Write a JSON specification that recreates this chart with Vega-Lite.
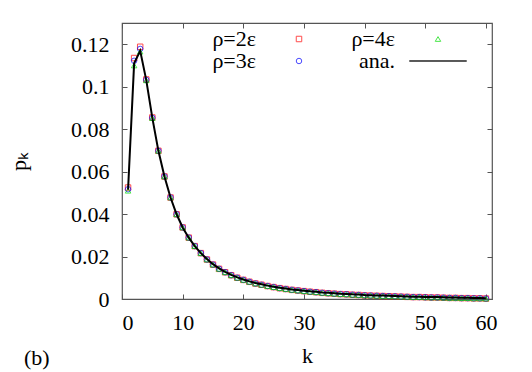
{
  "$schema": "https://vega.github.io/schema/vega-lite/v6.json",
  "width": 370,
  "height": 276,
  "autosize": {"type": "none"},
  "padding": {"left": 122, "top": 23, "right": 40, "bottom": 73},
  "config": {
    "font": "Liberation Serif",
    "view": {"stroke": "#555", "strokeWidth": 1.2},
    "axis": {
      "grid": false, "domain": false,
      "labelFont": "Liberation Serif", "labelFontSize": 22, "labelColor": "#000",
      "titleFont": "Liberation Serif", "titleFontSize": 22, "titleFontWeight": "normal", "titleColor": "#000",
      "tickColor": "#555", "tickSize": -5, "tickWidth": 1
    },
    "legend": {
      "orient": "none", "legendX": 166, "legendY": 5, "columns": 2, "columnPadding": 47, "rowPadding": 0,
      "symbolSize": 30, "symbolStrokeWidth": 1,
      "labelFont": "Liberation Serif", "labelFontSize": 22, "labelColor": "#000",
      "labelAlign": "right", "labelOffset": -54, "labelLimit": 0, "padding": 0
    }
  },
  "title": {"text": "(b)", "orient": "bottom", "anchor": "start", "frame": "group", "font": "Liberation Serif", "fontSize": 22, "fontWeight": "normal", "color": "#000", "dx": -98, "offset": -18},
  "data": {"values": [
    {"k":1,"s":"ρ=2ε","p":0.0525},{"k":2,"s":"ρ=2ε","p":0.1135},{"k":3,"s":"ρ=2ε","p":0.1188},{"k":4,"s":"ρ=2ε","p":0.1034},{"k":5,"s":"ρ=2ε","p":0.0855},
    {"k":6,"s":"ρ=2ε","p":0.0698},{"k":7,"s":"ρ=2ε","p":0.0577},{"k":8,"s":"ρ=2ε","p":0.0478},{"k":9,"s":"ρ=2ε","p":0.0399},{"k":10,"s":"ρ=2ε","p":0.0337},
    {"k":11,"s":"ρ=2ε","p":0.0289},{"k":12,"s":"ρ=2ε","p":0.0249},{"k":13,"s":"ρ=2ε","p":0.0216},{"k":14,"s":"ρ=2ε","p":0.0186},{"k":15,"s":"ρ=2ε","p":0.0162},
    {"k":16,"s":"ρ=2ε","p":0.0142},{"k":17,"s":"ρ=2ε","p":0.0126},{"k":18,"s":"ρ=2ε","p":0.0112},{"k":19,"s":"ρ=2ε","p":0.0100},{"k":20,"s":"ρ=2ε","p":0.0090},
    {"k":21,"s":"ρ=2ε","p":0.0081},{"k":22,"s":"ρ=2ε","p":0.0073},{"k":23,"s":"ρ=2ε","p":0.0067},{"k":24,"s":"ρ=2ε","p":0.0061},{"k":25,"s":"ρ=2ε","p":0.0056},
    {"k":26,"s":"ρ=2ε","p":0.0051},{"k":27,"s":"ρ=2ε","p":0.0047},{"k":28,"s":"ρ=2ε","p":0.0043},{"k":29,"s":"ρ=2ε","p":0.0040},{"k":30,"s":"ρ=2ε","p":0.0037},
    {"k":31,"s":"ρ=2ε","p":0.0034},{"k":32,"s":"ρ=2ε","p":0.0032},{"k":33,"s":"ρ=2ε","p":0.0029},{"k":34,"s":"ρ=2ε","p":0.0027},{"k":35,"s":"ρ=2ε","p":0.0025},
    {"k":36,"s":"ρ=2ε","p":0.0023},{"k":37,"s":"ρ=2ε","p":0.0022},{"k":38,"s":"ρ=2ε","p":0.0020},{"k":39,"s":"ρ=2ε","p":0.0019},{"k":40,"s":"ρ=2ε","p":0.0017},
    {"k":41,"s":"ρ=2ε","p":0.0016},{"k":42,"s":"ρ=2ε","p":0.0015},{"k":43,"s":"ρ=2ε","p":0.0014},{"k":44,"s":"ρ=2ε","p":0.0013},{"k":45,"s":"ρ=2ε","p":0.0012},
    {"k":46,"s":"ρ=2ε","p":0.0011},{"k":47,"s":"ρ=2ε","p":0.0010},{"k":48,"s":"ρ=2ε","p":0.0009},{"k":49,"s":"ρ=2ε","p":0.0009},{"k":50,"s":"ρ=2ε","p":0.0008},
    {"k":51,"s":"ρ=2ε","p":0.0007},{"k":52,"s":"ρ=2ε","p":0.0007},{"k":53,"s":"ρ=2ε","p":0.0006},{"k":54,"s":"ρ=2ε","p":0.0005},{"k":55,"s":"ρ=2ε","p":0.0005},
    {"k":56,"s":"ρ=2ε","p":0.0004},{"k":57,"s":"ρ=2ε","p":0.0004},{"k":58,"s":"ρ=2ε","p":0.0003},{"k":59,"s":"ρ=2ε","p":0.0003},{"k":60,"s":"ρ=2ε","p":0.0002},

    {"k":1,"s":"ρ=3ε","p":0.0517},{"k":2,"s":"ρ=3ε","p":0.1122},{"k":3,"s":"ρ=3ε","p":0.1178},{"k":4,"s":"ρ=3ε","p":0.1032},{"k":5,"s":"ρ=3ε","p":0.0853},
    {"k":6,"s":"ρ=3ε","p":0.0698},{"k":7,"s":"ρ=3ε","p":0.0577},{"k":8,"s":"ρ=3ε","p":0.0478},{"k":9,"s":"ρ=3ε","p":0.0399},{"k":10,"s":"ρ=3ε","p":0.0337},
    {"k":11,"s":"ρ=3ε","p":0.0289},{"k":12,"s":"ρ=3ε","p":0.0249},{"k":13,"s":"ρ=3ε","p":0.0216},{"k":14,"s":"ρ=3ε","p":0.0186},{"k":15,"s":"ρ=3ε","p":0.0162},
    {"k":16,"s":"ρ=3ε","p":0.0142},{"k":17,"s":"ρ=3ε","p":0.0126},{"k":18,"s":"ρ=3ε","p":0.0112},{"k":19,"s":"ρ=3ε","p":0.0100},{"k":20,"s":"ρ=3ε","p":0.0090},
    {"k":21,"s":"ρ=3ε","p":0.0081},{"k":22,"s":"ρ=3ε","p":0.0073},{"k":23,"s":"ρ=3ε","p":0.0067},{"k":24,"s":"ρ=3ε","p":0.0061},{"k":25,"s":"ρ=3ε","p":0.0056},
    {"k":26,"s":"ρ=3ε","p":0.0051},{"k":27,"s":"ρ=3ε","p":0.0047},{"k":28,"s":"ρ=3ε","p":0.0043},{"k":29,"s":"ρ=3ε","p":0.0040},{"k":30,"s":"ρ=3ε","p":0.0037},
    {"k":31,"s":"ρ=3ε","p":0.0034},{"k":32,"s":"ρ=3ε","p":0.0032},{"k":33,"s":"ρ=3ε","p":0.0029},{"k":34,"s":"ρ=3ε","p":0.0027},{"k":35,"s":"ρ=3ε","p":0.0025},
    {"k":36,"s":"ρ=3ε","p":0.0023},{"k":37,"s":"ρ=3ε","p":0.0022},{"k":38,"s":"ρ=3ε","p":0.0020},{"k":39,"s":"ρ=3ε","p":0.0019},{"k":40,"s":"ρ=3ε","p":0.0017},
    {"k":41,"s":"ρ=3ε","p":0.0016},{"k":42,"s":"ρ=3ε","p":0.0015},{"k":43,"s":"ρ=3ε","p":0.0014},{"k":44,"s":"ρ=3ε","p":0.0013},{"k":45,"s":"ρ=3ε","p":0.0012},
    {"k":46,"s":"ρ=3ε","p":0.0011},{"k":47,"s":"ρ=3ε","p":0.0010},{"k":48,"s":"ρ=3ε","p":0.0009},{"k":49,"s":"ρ=3ε","p":0.0009},{"k":50,"s":"ρ=3ε","p":0.0008},
    {"k":51,"s":"ρ=3ε","p":0.0007},{"k":52,"s":"ρ=3ε","p":0.0007},{"k":53,"s":"ρ=3ε","p":0.0006},{"k":54,"s":"ρ=3ε","p":0.0005},{"k":55,"s":"ρ=3ε","p":0.0005},
    {"k":56,"s":"ρ=3ε","p":0.0004},{"k":57,"s":"ρ=3ε","p":0.0004},{"k":58,"s":"ρ=3ε","p":0.0003},{"k":59,"s":"ρ=3ε","p":0.0003},{"k":60,"s":"ρ=3ε","p":0.0002},

    {"k":1,"s":"ρ=4ε","p":0.0510},{"k":2,"s":"ρ=4ε","p":0.1100},{"k":3,"s":"ρ=4ε","p":0.1165},{"k":4,"s":"ρ=4ε","p":0.1030},{"k":5,"s":"ρ=4ε","p":0.0852},
    {"k":6,"s":"ρ=4ε","p":0.0698},{"k":7,"s":"ρ=4ε","p":0.0577},{"k":8,"s":"ρ=4ε","p":0.0478},{"k":9,"s":"ρ=4ε","p":0.0399},{"k":10,"s":"ρ=4ε","p":0.0337},
    {"k":11,"s":"ρ=4ε","p":0.0289},{"k":12,"s":"ρ=4ε","p":0.0249},{"k":13,"s":"ρ=4ε","p":0.0216},{"k":14,"s":"ρ=4ε","p":0.0186},{"k":15,"s":"ρ=4ε","p":0.0162},
    {"k":16,"s":"ρ=4ε","p":0.0142},{"k":17,"s":"ρ=4ε","p":0.0126},{"k":18,"s":"ρ=4ε","p":0.0112},{"k":19,"s":"ρ=4ε","p":0.0100},{"k":20,"s":"ρ=4ε","p":0.0090},
    {"k":21,"s":"ρ=4ε","p":0.0081},{"k":22,"s":"ρ=4ε","p":0.0073},{"k":23,"s":"ρ=4ε","p":0.0067},{"k":24,"s":"ρ=4ε","p":0.0061},{"k":25,"s":"ρ=4ε","p":0.0056},
    {"k":26,"s":"ρ=4ε","p":0.0051},{"k":27,"s":"ρ=4ε","p":0.0047},{"k":28,"s":"ρ=4ε","p":0.0043},{"k":29,"s":"ρ=4ε","p":0.0040},{"k":30,"s":"ρ=4ε","p":0.0037},
    {"k":31,"s":"ρ=4ε","p":0.0034},{"k":32,"s":"ρ=4ε","p":0.0032},{"k":33,"s":"ρ=4ε","p":0.0029},{"k":34,"s":"ρ=4ε","p":0.0027},{"k":35,"s":"ρ=4ε","p":0.0025},
    {"k":36,"s":"ρ=4ε","p":0.0023},{"k":37,"s":"ρ=4ε","p":0.0022},{"k":38,"s":"ρ=4ε","p":0.0020},{"k":39,"s":"ρ=4ε","p":0.0019},{"k":40,"s":"ρ=4ε","p":0.0017},
    {"k":41,"s":"ρ=4ε","p":0.0016},{"k":42,"s":"ρ=4ε","p":0.0015},{"k":43,"s":"ρ=4ε","p":0.0014},{"k":44,"s":"ρ=4ε","p":0.0013},{"k":45,"s":"ρ=4ε","p":0.0012},
    {"k":46,"s":"ρ=4ε","p":0.0011},{"k":47,"s":"ρ=4ε","p":0.0010},{"k":48,"s":"ρ=4ε","p":0.0009},{"k":49,"s":"ρ=4ε","p":0.0009},{"k":50,"s":"ρ=4ε","p":0.0008},
    {"k":51,"s":"ρ=4ε","p":0.0007},{"k":52,"s":"ρ=4ε","p":0.0007},{"k":53,"s":"ρ=4ε","p":0.0006},{"k":54,"s":"ρ=4ε","p":0.0005},{"k":55,"s":"ρ=4ε","p":0.0005},
    {"k":56,"s":"ρ=4ε","p":0.0004},{"k":57,"s":"ρ=4ε","p":0.0004},{"k":58,"s":"ρ=4ε","p":0.0003},{"k":59,"s":"ρ=4ε","p":0.0003},{"k":60,"s":"ρ=4ε","p":0.0002},

    {"k":1,"s":"ana.","p":0.0515},{"k":2,"s":"ana.","p":0.1110},{"k":3,"s":"ana.","p":0.1169},{"k":4,"s":"ana.","p":0.1031},{"k":5,"s":"ana.","p":0.0853},
    {"k":6,"s":"ana.","p":0.0698},{"k":7,"s":"ana.","p":0.0577},{"k":8,"s":"ana.","p":0.0478},{"k":9,"s":"ana.","p":0.0399},{"k":10,"s":"ana.","p":0.0337},
    {"k":11,"s":"ana.","p":0.0289},{"k":12,"s":"ana.","p":0.0249},{"k":13,"s":"ana.","p":0.0216},{"k":14,"s":"ana.","p":0.0188},{"k":15,"s":"ana.","p":0.0164},
    {"k":16,"s":"ana.","p":0.0144},{"k":17,"s":"ana.","p":0.0128},{"k":18,"s":"ana.","p":0.0114},{"k":19,"s":"ana.","p":0.0102},{"k":20,"s":"ana.","p":0.0092},
    {"k":21,"s":"ana.","p":0.0083},{"k":22,"s":"ana.","p":0.0075},{"k":23,"s":"ana.","p":0.0069},{"k":24,"s":"ana.","p":0.0063},{"k":25,"s":"ana.","p":0.0058},
    {"k":26,"s":"ana.","p":0.0053},{"k":27,"s":"ana.","p":0.0049},{"k":28,"s":"ana.","p":0.0045},{"k":29,"s":"ana.","p":0.0042},{"k":30,"s":"ana.","p":0.0039},
    {"k":31,"s":"ana.","p":0.0036},{"k":32,"s":"ana.","p":0.0034},{"k":33,"s":"ana.","p":0.0031},{"k":34,"s":"ana.","p":0.0029},{"k":35,"s":"ana.","p":0.0027},
    {"k":36,"s":"ana.","p":0.0025},{"k":37,"s":"ana.","p":0.0024},{"k":38,"s":"ana.","p":0.0022},{"k":39,"s":"ana.","p":0.0021},{"k":40,"s":"ana.","p":0.0019},
    {"k":41,"s":"ana.","p":0.0018},{"k":42,"s":"ana.","p":0.0017},{"k":43,"s":"ana.","p":0.0016},{"k":44,"s":"ana.","p":0.0015},{"k":45,"s":"ana.","p":0.0014},
    {"k":46,"s":"ana.","p":0.0013},{"k":47,"s":"ana.","p":0.0012},{"k":48,"s":"ana.","p":0.0011},{"k":49,"s":"ana.","p":0.0011},{"k":50,"s":"ana.","p":0.0010},
    {"k":51,"s":"ana.","p":0.0009},{"k":52,"s":"ana.","p":0.0009},{"k":53,"s":"ana.","p":0.0008},{"k":54,"s":"ana.","p":0.0007},{"k":55,"s":"ana.","p":0.0007},
    {"k":56,"s":"ana.","p":0.0006},{"k":57,"s":"ana.","p":0.0006},{"k":58,"s":"ana.","p":0.0005},{"k":59,"s":"ana.","p":0.0005},{"k":60,"s":"ana.","p":0.0004}
  ]},
  "layer": [
    {
      "transform": [{"filter": "datum.s !== 'ana.'"}],
      "mark": {"type": "point", "filled": false, "size": 30, "strokeWidth": 1},
      "encoding": {
        "x": {"field": "k", "type": "quantitative", "scale": {"domain": [0, 61], "nice": false, "zero": false},
              "axis": {"title": "k", "values": [0,10,20,30,40,50,60], "format": "d", "labelPadding": 18, "titlePadding": 12}},
        "y": {"field": "p", "type": "quantitative", "scale": {"domain": [0, 0.13], "nice": false},
              "axis": {"title": "pₖ", "values": [0,0.02,0.04,0.06,0.08,0.1,0.12], "format": "~g", "labelPadding": 18, "titlePadding": 40}},
        "color": {"field": "s", "type": "nominal",
                  "scale": {"domain": ["ρ=2ε","ρ=3ε","ρ=4ε","ana."], "range": ["#ff0000","#0000ff","#00dd00","#000000"]},
                  "legend": {"title": null}},
        "shape": {"field": "s", "type": "nominal",
                  "scale": {"domain": ["ρ=2ε","ρ=3ε","ρ=4ε","ana."], "range": ["square","circle","triangle-up","M-10.4,-0.15H10.4V0.15H-10.4Z"]},
                  "legend": {"title": null}}
      }
    },
    {
      "transform": [{"filter": "datum.s === 'ana.'"}],
      "mark": {"type": "line", "strokeWidth": 2},
      "encoding": {
        "x": {"field": "k", "type": "quantitative", "axis": null},
        "y": {"field": "p", "type": "quantitative", "axis": null},
        "color": {"field": "s", "type": "nominal", "legend": {"title": null}}
      }
    },
    {
      "transform": [{"filter": "datum.s === 'ana.'"}],
      "mark": {"type": "line", "opacity": 0},
      "encoding": {
        "x": {"field": "k", "type": "quantitative",
              "axis": {"orient": "top", "title": null, "labels": false, "values": [0,10,20,30,40,50,60]}},
        "y": {"field": "p", "type": "quantitative",
              "axis": {"orient": "right", "title": null, "labels": false, "values": [0,0.02,0.04,0.06,0.08,0.1,0.12]}}
      }
    }
  ],
  "resolve": {"axis": {"x": "independent", "y": "independent"}}
}
